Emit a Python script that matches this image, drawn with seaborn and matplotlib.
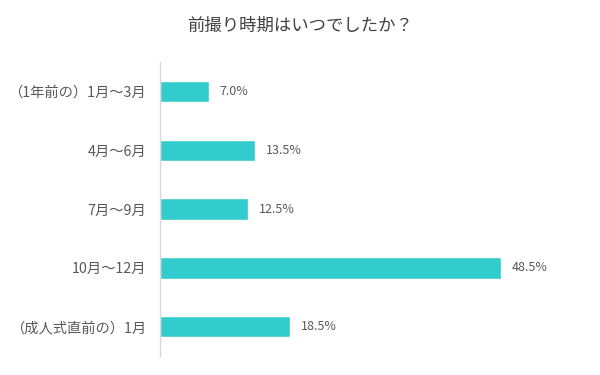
import matplotlib
matplotlib.use("Agg")

import matplotlib.pyplot as plt
import pandas as pd
import seaborn as sns

categories = ["（1年前の）1月～3月", "4月～6月", "7月～9月", "10月～12月", "（成人式直前の）1月"]
values = [7.0, 13.5, 12.5, 48.5, 18.5]
title = "前撮り時期はいつでしたか？"

sns.set_theme(style="white")
plt.rcParams["font.family"] = ["Noto Sans CJK JP", "DejaVu Sans"]

df = pd.DataFrame({"period": categories, "pct": values})

fig = plt.figure(figsize=(6, 3.75), dpi=100)
ax = fig.add_axes([0.2667, 0.05, 0.703, 0.785])
sns.barplot(data=df, x="pct", y="period", color="#33CCCC", width=0.36,
            saturation=1, ax=ax)

for i, v in enumerate(values):
    ax.text(v + 1.5, i, f"{v:.1f}%", va="center", ha="left",
            fontsize=9, color="#595959")

ax.set_xlim(0, 60)
ax.set_xlabel("")
ax.set_ylabel("")
ax.set_xticks([])
ax.tick_params(axis="y", length=0, labelsize=10.3, labelcolor="#595959", pad=10)
for side in ("top", "right", "bottom"):
    ax.spines[side].set_visible(False)
ax.spines["left"].set_color("#D9D9D9")
ax.spines["left"].set_linewidth(1)

fig.text(0.5, 0.93, title, ha="center", va="center", fontsize=12.5, color="#404040")

fig.savefig("out.png", dpi=100)
